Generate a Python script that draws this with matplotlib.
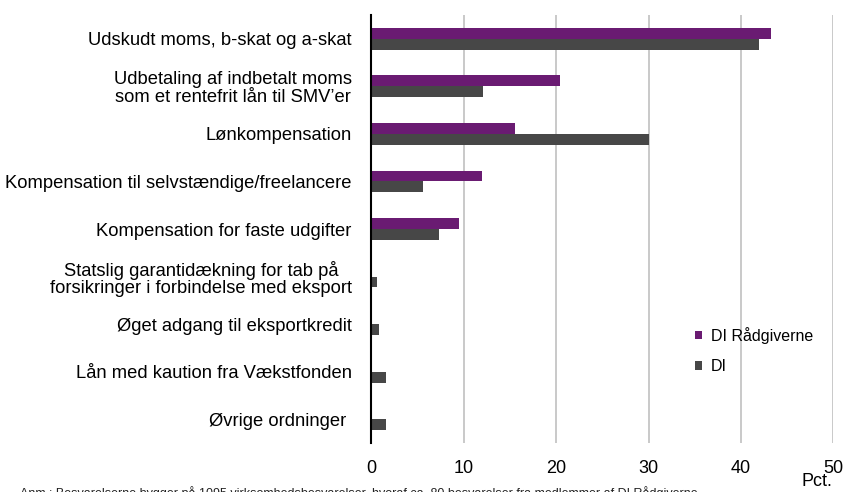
import matplotlib
matplotlib.use("Agg")
import matplotlib.pyplot as plt
from matplotlib.patches import Patch
from matplotlib import font_manager
import numpy as np

categories = [
    "Udskudt moms, b-skat og a-skat",
    "Udbetaling af indbetalt moms\nsom et rentefrit lån til SMV\u2019er",
    "Lønkompensation",
    "Kompensation til selvstændige/freelancere",
    "Kompensation for faste udgifter",
    "Statslig garantidækning for tab på\nforsikringer i forbindelse med eksport",
    "Øget adgang til eksportkredit",
    "Lån med kaution fra Vækstfonden",
    "Øvrige ordninger ",
]
di_raadgiverne = [43.3, 20.4, 15.6, 12.0, 9.5, 0, 0, 0, 0]
di = [42.0, 12.1, 30.1, 5.6, 7.3, 0.6, 0.8, 1.6, 1.6]
series_names = ["DI Rådgiverne", "DI"]
xticks = [0, 10, 20, 30, 40, 50]
xlabel = "Pct."
note = ("Anm.: Besvarelserne bygger på 1095 virksomhedsbesvarelser, hvoraf ca. 80 "
        "besvarelser fra medlemmer af DI Rådgiverne.")

purple = "#6a1b72"
gray = "#474747"

names = {f.name for f in font_manager.fontManager.ttflist}
main_font = "Liberation Sans" if "Liberation Sans" in names else "DejaVu Sans"
narrow_font = "Liberation Sans Narrow" if "Liberation Sans Narrow" in names else main_font

W, H = 848, 492
fig = plt.figure(figsize=(W / 100, H / 100), dpi=100)
left, right, top, bottom = 371.3, 833.3, 15, 443
ax = fig.add_axes([left / W, 1 - bottom / H, (right - left) / W, (bottom - top) / H])

y = np.arange(len(categories))
h = 0.23
ax.barh(y - h / 2, di_raadgiverne, height=h, color=purple, zorder=3)
ax.barh(y + h / 2, di, height=h, color=gray, zorder=3)

ax.set_xlim(0, 50)
ax.set_ylim(len(categories) - 0.5, -0.5)
ax.set_xticks(xticks)
ax.set_xticklabels([str(t) for t in xticks], fontfamily=narrow_font, fontsize=13)
ax.set_yticks(y)
ax.set_yticklabels(categories, fontfamily=main_font, fontsize=13.2,
                   multialignment="center", linespacing=1.05)
ax.tick_params(axis="both", length=0)
ax.tick_params(axis="y", pad=14)
ax.tick_params(axis="x", pad=12)
ax.grid(axis="x", color="#c0c0c0", linewidth=1.2, zorder=0)
for s in ["top", "right", "bottom"]:
    ax.spines[s].set_visible(False)
ax.spines["left"].set_color("black")
ax.spines["left"].set_linewidth(1.5)
ax.spines["left"].set_zorder(4)

fig.text(817 / W, 1 - 482 / H, xlabel, fontfamily=narrow_font, fontsize=13,
         ha="center", va="center")

handles = [Patch(facecolor=purple), Patch(facecolor=gray)]
fig.legend(handles, series_names, loc="center left",
           bbox_to_anchor=(695 / W, 1 - 350.5 / H), bbox_transform=fig.transFigure,
           frameon=False, borderpad=0, borderaxespad=0,
           handlelength=0.45, handleheight=0.45, handletextpad=0.55,
           labelspacing=0.95, prop={"family": main_font, "size": 11.5})

fig.text(20 / W, 1 - 486 / H, note, fontfamily=narrow_font, fontsize=9,
         ha="left", va="top", color="#222222")

fig.savefig("out.png", dpi=100)
